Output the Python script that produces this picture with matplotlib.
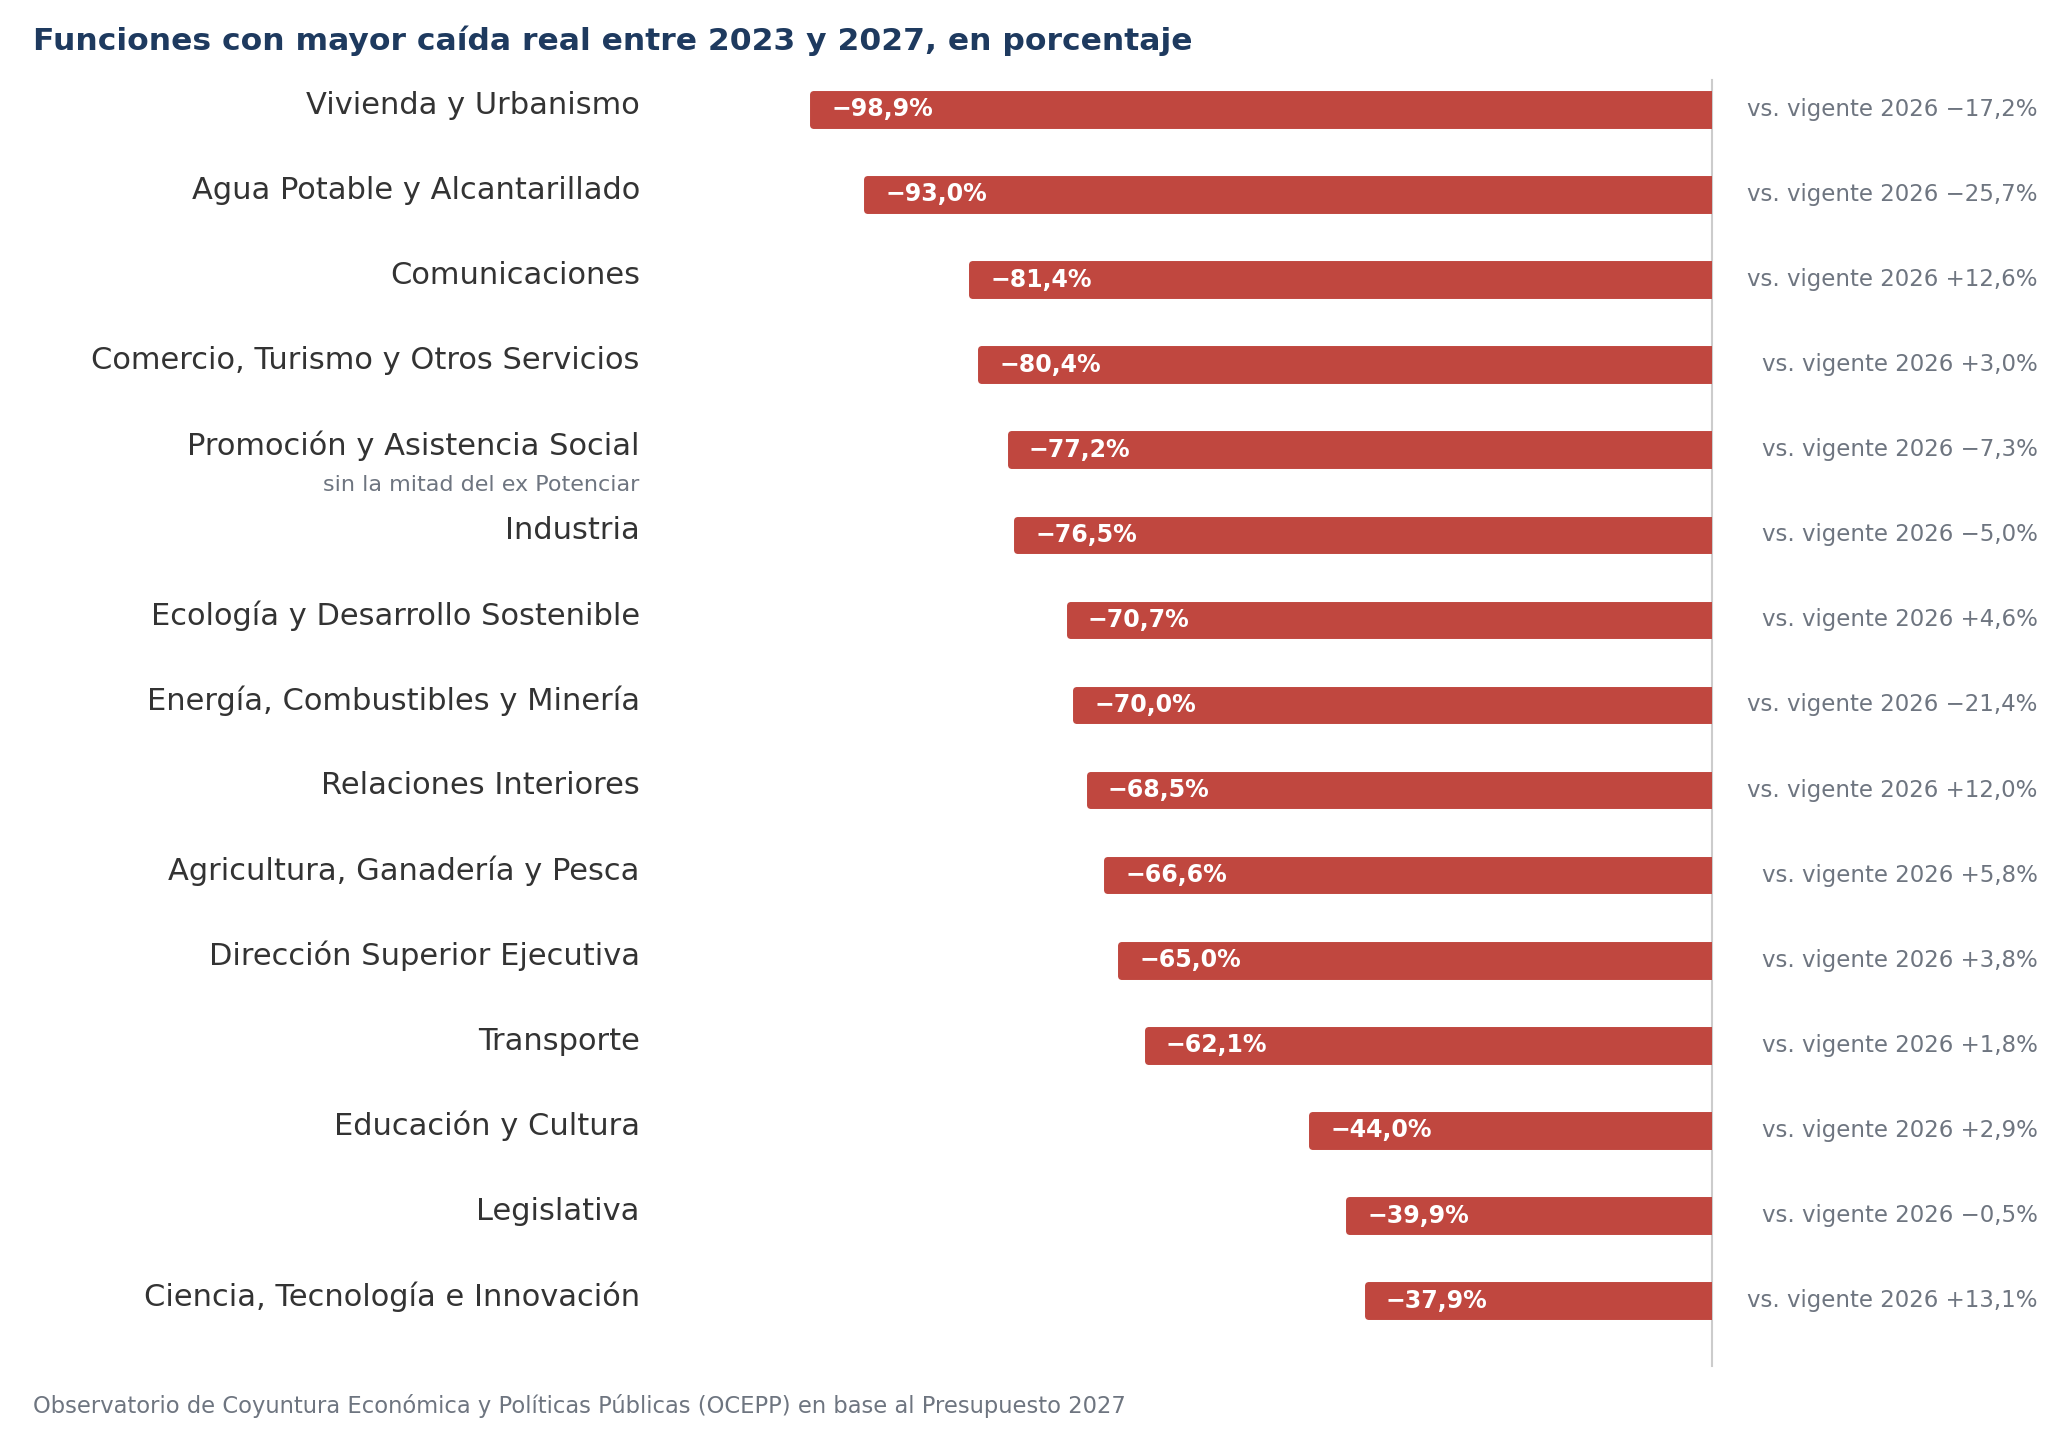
import matplotlib
matplotlib.use("Agg")
import matplotlib.pyplot as plt

plt.rcParams['font.family'] = ['DejaVu Sans']

# data
categorias = [
    "Vivienda y Urbanismo",
    "Agua Potable y Alcantarillado",
    "Comunicaciones",
    "Comercio, Turismo y Otros Servicios",
    "Promoción y Asistencia Social",
    "Industria",
    "Ecología y Desarrollo Sostenible",
    "Energía, Combustibles y Minería",
    "Relaciones Interiores",
    "Agricultura, Ganadería y Pesca",
    "Dirección Superior Ejecutiva",
    "Transporte",
    "Educación y Cultura",
    "Legislativa",
    "Ciencia, Tecnología e Innovación",
]
caida_real = [-98.9, -93.0, -81.4, -80.4, -77.2, -76.5, -70.7, -70.0,
              -68.5, -66.6, -65.0, -62.1, -44.0, -39.9, -37.9]
vs_vigente_2026 = [-17.2, -25.7, 12.6, 3.0, -7.3, -5.0, 4.6, -21.4,
                   12.0, 5.8, 3.8, 1.8, 2.9, -0.5, 13.1]
notas = {4: "sin la mitad del ex Potenciar"}

titulo = "Funciones con mayor caída real entre 2023 y 2027, en porcentaje"
fuente = ("Observatorio de Coyuntura Económica y Políticas Públicas (OCEPP) "
          "en base al Presupuesto 2027")

ROJO = "#c0473f"
NAVY = "#1e3a5f"
GRIS = "#6e7580"
TEXTO = "#333333"


def fmt(v, signo=False):
    s = f"{abs(v):.1f}".replace(".", ",") + "%"
    if v < 0:
        return "\u2212" + s
    return ("+" + s) if signo else s


fig = plt.figure(figsize=(20.64, 14.5), dpi=100)
ax = fig.add_axes([0.0, 0.0737, 0.8295, 0.8802])
ax.set_xlim(-188.4, 0)
ax.set_ylim(14.5, -0.5)
ax.axis("off")

y = list(range(len(categorias)))
ax.barh(y, caida_real, height=0.36, color=ROJO, edgecolor=ROJO,
        linewidth=5, joinstyle="round")

ax.plot([0, 0], [-0.35, 14.77], color="#cccccc", lw=1.5, clip_on=False,
        zorder=0)

yt = ax.get_yaxis_transform()
for i, (cat, v, d) in enumerate(zip(categorias, caida_real, vs_vigente_2026)):
    ax.text(0.3737, i - 0.05, cat, transform=yt, ha="right", va="center",
            fontsize=22, color=TEXTO)
    ax.text(v + 2.0, i, fmt(v), ha="left", va="center", fontsize=17,
            fontweight="bold", color="white")
    ax.text(1.190, i, "vs. vigente 2026 " + fmt(d, signo=True), transform=yt,
            ha="right", va="center", fontsize=16.5, color=GRIS, clip_on=False)

for i, nota in notas.items():
    ax.text(0.3737, i + 0.42, nota, transform=yt, ha="right", va="center",
            fontsize=16, color=GRIS)

fig.text(0.016, 0.972, titulo, ha="left", va="center", fontsize=22.6,
         fontweight="bold", color=NAVY)
fig.text(0.016, 0.030, fuente, ha="left", va="center", fontsize=16.3,
         color=GRIS)

fig.savefig("out.png", dpi=100)
